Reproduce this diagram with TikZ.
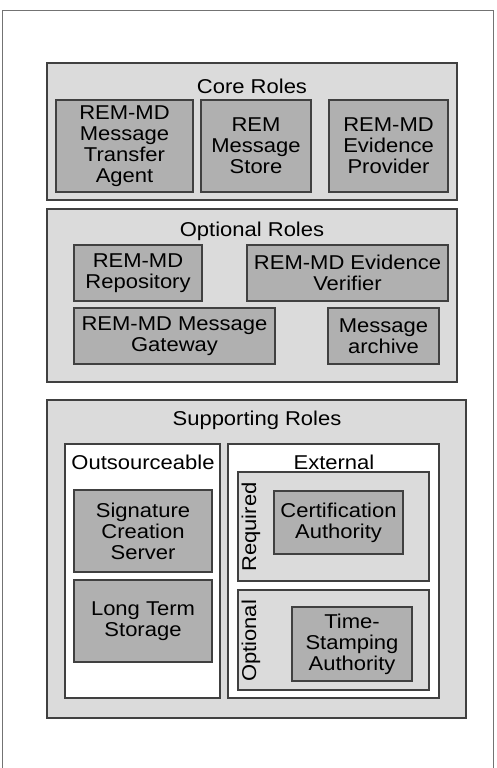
\documentclass[tikz,border=0pt]{standalone}
\usepackage{fontspec}
\setmainfont{Liberation Sans}[FakeStretch=1.1]
\begin{document}
\begin{tikzpicture}[x=1pt,y=-1pt,
  box/.style={draw=black!75, line width=1.2pt, inner sep=0pt, outer sep=0pt, anchor=north west, align=center, font=\fontsize{20}{21}\selectfont},
  lightbox/.style={box, fill=black!14},
  darkbox/.style={box, fill=black!31},
  whitebox/.style={box, fill=white},
  titletext/.style={inner sep=0pt, font=\fontsize{20}{21}\selectfont}]
\useasboundingbox (0,0) rectangle (496,768);
\node[draw=black!55, line width=1.2pt, inner sep=0pt, anchor=north west, minimum width=491pt, minimum height=770pt] (frame) at (2,10) {};
% Core roles
\node[lightbox, minimum width=410pt, minimum height=137pt] (core) at (47,63) {};
\node[titletext] (coret) at (252,86) {Core Roles};
\node[darkbox, minimum width=137pt, minimum height=92pt] (mta) at (56,100) {REM-MD\\Message\\Transfer\\Agent};
\node[darkbox, minimum width=110pt, minimum height=92pt] (store) at (201,100) {REM\\Message\\Store};
\node[darkbox, minimum width=119pt, minimum height=92pt] (evp) at (329,100) {REM-MD\\Evidence\\Provider};
% Optional roles
\node[lightbox, minimum width=410pt, minimum height=173pt] (opt) at (47,209) {};
\node[titletext] (optt) at (252,231) {Optional Roles};
\node[darkbox, minimum width=128pt, minimum height=56pt] (repo) at (74,245) {REM-MD\\Repository};
\node[darkbox, minimum width=201pt, minimum height=56pt] (ver) at (247,245) {REM-MD Evidence\\Verifier};
\node[darkbox, minimum width=201pt, minimum height=56pt] (gw) at (74,308) {REM-MD Message\\Gateway};
\node[darkbox, minimum width=111pt, minimum height=56pt] (arch) at (328,308) {Message\\archive};
% Supporting roles
\node[lightbox, minimum width=419pt, minimum height=318pt] (sup) at (47,400) {};
\node[titletext] (supt) at (257,420) {Supporting Roles};
\node[whitebox, minimum width=155pt, minimum height=254pt] (outs) at (65,444) {};
\node[titletext] (outst) at (143,462) {Outsourceable};
\node[darkbox, minimum width=138pt, minimum height=82pt] (scs) at (74,490) {Signature\\Creation\\Server};
\node[darkbox, minimum width=138pt, minimum height=82pt] (lts) at (74,580) {Long Term\\Storage};
\node[whitebox, minimum width=211pt, minimum height=254pt] (ext) at (228,444) {};
\node[titletext] (extt) at (334,462) {External};
\node[lightbox, minimum width=191pt, minimum height=109pt] (req) at (238,472) {};
\node[titletext, rotate=90] (reqt) at (251,527) {Required};
\node[darkbox, minimum width=129pt, minimum height=63pt] (ca) at (274,491) {Certification\\Authority};
\node[lightbox, minimum width=191pt, minimum height=100pt] (optl) at (238,590) {};
\node[titletext, rotate=90] (optlt) at (251,641) {Optional};
\node[darkbox, minimum width=120pt, minimum height=74pt] (tsa) at (292,607) {Time-\\Stamping\\Authority};
\end{tikzpicture}
\end{document}
